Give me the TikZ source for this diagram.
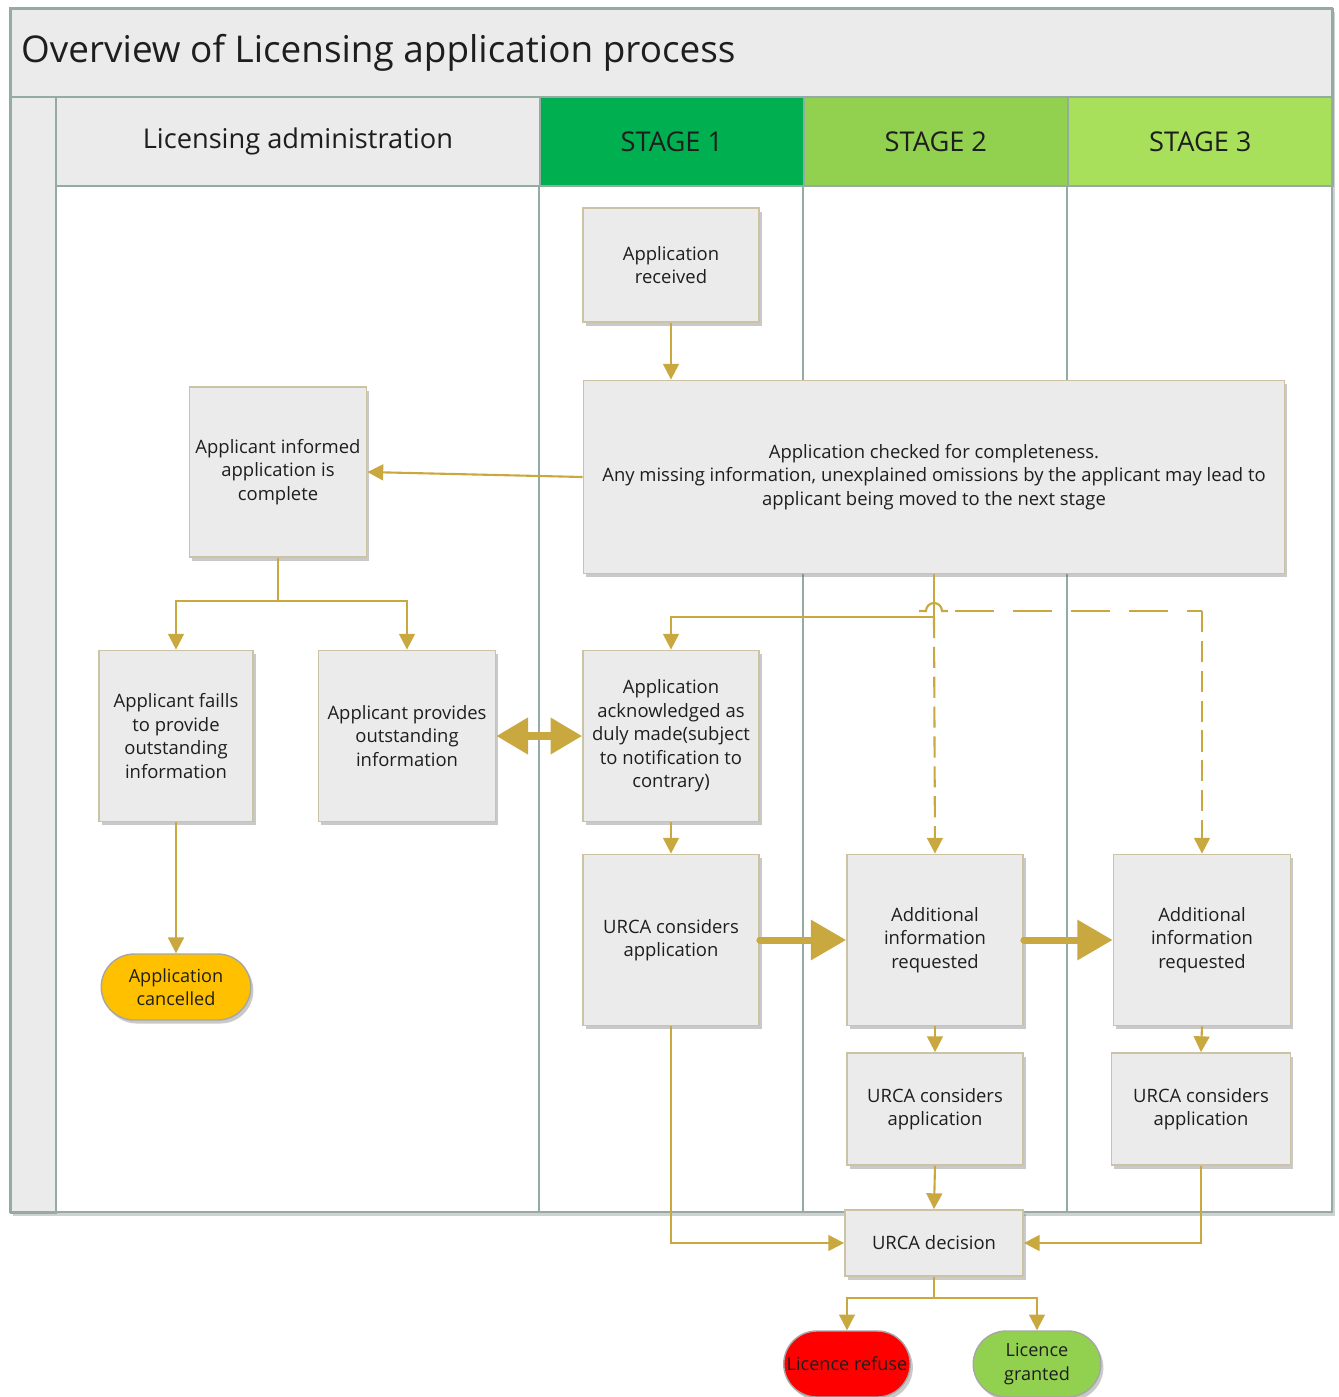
\documentclass[tikz,border=0pt]{standalone}
\usepackage{fontspec}
\setmainfont{Open Sans}
\usetikzlibrary{arrows.meta,shadows,shapes.misc}
\definecolor{gold}{HTML}{C9A93F}
\definecolor{frame}{HTML}{93ABA3}
\definecolor{boxfill}{HTML}{EBEBEB}
\definecolor{boxline}{HTML}{CBC3A3}
\definecolor{txt}{HTML}{1E1E1E}
\definecolor{stageA}{HTML}{00B050}
\definecolor{stageB}{HTML}{92D050}
\definecolor{stageC}{HTML}{A9E05B}
\definecolor{cancel}{HTML}{FFC000}
\definecolor{refuse}{HTML}{FF0000}
\definecolor{grant}{HTML}{92D050}
\begin{document}
\begin{tikzpicture}[x=0.02cm,y=-0.02cm,
  sz/.style 2 args={minimum width=#1*0.02cm, minimum height=#2*0.02cm},
  shade/.style={drop shadow={shadow xshift=1.5pt,shadow yshift=-2pt,opacity=0.35,fill=black!60}},
  box/.style={draw=boxline, line width=1pt, fill=boxfill, text=txt, align=center,
    font=\fontsize{10.5}{13.4}\selectfont, inner sep=2pt, shade},
  oval/.style={rounded rectangle, draw=black!35, line width=0.8pt, text=txt, align=center,
    font=\fontsize{10.3}{13.4}\selectfont, inner sep=1pt, shade},
  lanehead/.style={draw=frame, line width=1pt, text=txt, font=\fontsize{15.5}{18}\selectfont},
  conn/.style={draw=gold, line width=1.2pt, -{Triangle[width=9pt,length=9pt]}},
  plain/.style={draw=gold, line width=1.2pt},
  dashconn/.style={conn, dash pattern=on 12pt off 5pt},
  dashplain/.style={plain, dash pattern=on 22pt off 11pt},
  bigconn/.style={draw=gold, line width=4pt, line cap=round, -{Triangle[width=22pt,length=20pt]}},
  dblconn/.style={draw=gold, line width=4pt, {Triangle[width=20pt,length=18pt]}-{Triangle[width=20pt,length=18pt]}},
  lane/.style={draw=frame, line width=1pt}
]
\useasboundingbox (0,0) rectangle (1339,1397);

% frame
\fill[white, drop shadow={shadow xshift=1.5pt,shadow yshift=-2.5pt,opacity=0.3,fill=black!60}] (10,8) rectangle (1332,1212);
\node[draw=frame, line width=1pt, fill=boxfill, sz={1322}{88}, anchor=north west] (titlebar) at (10,8) {};
\node[anchor=west, text=txt, font=\fontsize{21}{24}\selectfont] (title) at (15,53) {Overview of Licensing application process};
\node[draw=frame, line width=1pt, fill=boxfill, sz={45}{1116}, anchor=north west] (leftbar) at (10,96) {};
\node[lanehead, fill=boxfill, sz={484}{89}, anchor=north west] (hadmin) at (55,96) {Licensing administration};
\node[lanehead, fill=stageA, sz={264}{89}, anchor=north west] (hs1) at (539,96) {STAGE 1};
\node[lanehead, fill=stageB, sz={264}{89}, anchor=north west] (hs2) at (803,96) {STAGE 2};
\node[lanehead, fill=stageC, sz={265}{89}, anchor=north west] (hs3) at (1067,96) {STAGE 3};
\draw[lane] (hs1.south west) -- (539,1212);
\draw[lane] (hs2.south west) -- (803,1212);
\draw[lane] (hs3.south west) -- (1067,1212);
\draw[draw=frame, line width=1pt] (10,8) rectangle (1332,1212);

% nodes
\node[box, sz={176}{114}] (recv) at (671,265) {Application\\received};
\node[box, sz={701}{193}] (check) at (934,477) {Application checked for completeness.\\Any missing information, unexplained omissions by the applicant may lead to\\applicant being moved to the next stage};
\node[box, sz={177}{170}] (inform) at (278,472) {Applicant informed\\application is\\complete};
\node[box, sz={154}{171}] (fails) at (176,736) {Applicant faills\\to provide\\outstanding\\information};
\node[box, sz={177}{171}] (provides) at (407,736) {Applicant provides\\outstanding\\information};
\node[box, sz={176}{171}] (ack) at (671,736) {Application\\acknowledged as\\duly made(subject\\to notification to\\contrary)};
\node[box, sz={176}{171}] (urca1) at (671,940) {URCA considers\\application};
\node[box, sz={176}{171}] (add2) at (935,940) {Additional\\information\\requested};
\node[box, sz={177}{171}] (add3) at (1202,940) {Additional\\information\\requested};
\node[box, sz={176}{112}] (urca2) at (935,1109) {URCA considers\\application};
\node[box, sz={179}{112}] (urca3) at (1201,1109) {URCA considers\\application};
\node[box, sz={178}{66}] (dec) at (934,1243) {URCA decision};
\node[oval, fill=cancel, sz={153}{66}] (cancelled) at (176,987) {Application\\cancelled};
\node[oval, fill=refuse, sz={130}{66}] (refused) at (847,1364) {Licence refuse};
\node[oval, fill=grant, sz={131}{66}] (granted) at (1037,1364) {Licence\\granted};

% junctions
\coordinate (j1) at (278,601);
\coordinate (j2) at (934,617);
\coordinate (h0) at (919,611);
\coordinate (h1) at (926,611);
\coordinate (h2) at (948,611);
\coordinate (h3) at (1202,611);
\coordinate (j3) at (934,1298);

% connectors
\draw[conn] (recv.south) -- (recv.south |- check.north);
\draw[conn] (check.west) -- (inform.east);
\draw[plain] (inform.south) -- (j1);
\draw[conn] (j1) -| (fails.north);
\draw[conn] (j1) -| (provides.north);
\draw[dblconn] (provides.east) -- (ack.west);
\draw[conn] (check.south) -- (j2) -| (ack.north);
\draw[dashconn] (j2) -- (add2.north);
\draw[plain] (h0) -- (h1) arc[start angle=180, end angle=360, radius=8] -- (h2);
\draw[dashplain, dash phase=-4pt] (h2) -- (h3);
\draw[dashconn] (h3) -- (add3.north);
\draw[conn] (ack.south) -- (urca1.north);
\draw[bigconn] (urca1.east) -- (add2.west);
\draw[bigconn] (add2.east) -- (add3.west);
\draw[conn] (add2.south) -- (urca2.north);
\draw[conn] (add3.south) -- (urca3.north);
\draw[conn] (urca2.south) -- (dec.north);
\draw[conn] (urca1.south) |- (dec.west);
\draw[conn] (urca3.south) |- (dec.east);
\draw[plain] (dec.south) -- (j3);
\draw[conn] (j3) -| (refused.north);
\draw[conn] (j3) -| (granted.north);
\draw[conn] (fails.south) -- (cancelled.north);
\end{tikzpicture}
\end{document}
